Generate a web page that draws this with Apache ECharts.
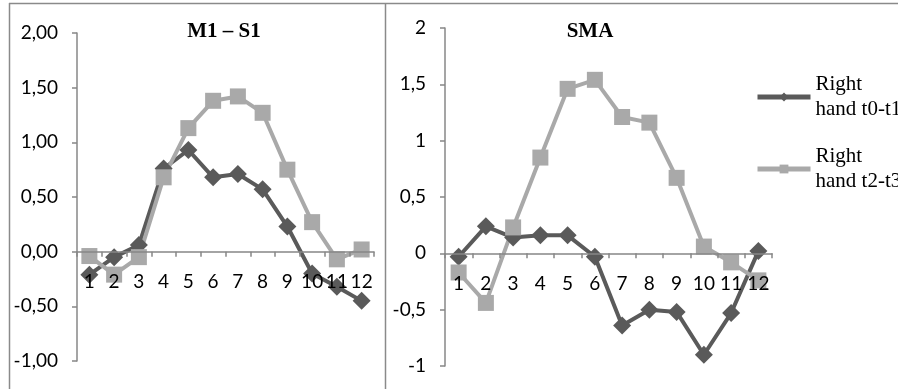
<!DOCTYPE html>
<html>
<head>
<meta charset="utf-8">
<script src="https://cdn.jsdelivr.net/npm/echarts@6/dist/echarts.min.js"></script>
<style>
  html, body { margin: 0; padding: 0; background: #fff; }
  #chart { width: 898px; height: 389px; }
</style>
</head>
<body>
<div id="chart"></div>
<script>
// Time points along the x axis
const categories = ['1', '2', '3', '4', '5', '6', '7', '8', '9', '10', '11', '12'];

// Series names
const seriesNames = ['Right hand t0-t1', 'Right hand t2-t3'];

// Panel titles
const panelTitles = ['M1 – S1', 'SMA'];

// M1 – S1 panel
const m1s1_t0t1 = [-0.21, -0.05, 0.06, 0.76, 0.93, 0.68, 0.71, 0.57, 0.23, -0.20, -0.32, -0.45];
const m1s1_t2t3 = [-0.04, -0.21, -0.05, 0.68, 1.13, 1.38, 1.42, 1.27, 0.75, 0.27, -0.07, 0.02];

// SMA panel
const sma_t0t1 = [-0.03, 0.24, 0.14, 0.16, 0.16, -0.03, -0.64, -0.50, -0.52, -0.90, -0.53, 0.02];
const sma_t2t3 = [-0.17, -0.44, 0.23, 0.85, 1.46, 1.54, 1.21, 1.16, 0.67, 0.06, -0.08, -0.24];

// Y axis range and step
const yMin = -1, yMax = 2, yStep = 0.5;

const DARK = '#5a5a5a';
const LIGHT = '#a9a9a9';
const AXIS = '#878787';
const LABEL_FONT = 'Lato, "Open Sans", sans-serif';
const SERIF = '"Liberation Serif", "DejaVu Serif", serif';

// plot areas of the two panels
const grids = [
  { left: 77, top: 33, width: 297, height: 328 },
  { left: 445, top: 28, width: 327, height: 338 }
];

const chart = echarts.init(document.getElementById('chart'), null, { renderer: 'canvas' });

function xAxisFor(gridIndex) {
  // category axis drawn across the y = 0 line of its panel
  const g = grids[gridIndex];
  const zeroOffset = -g.height * (0 - yMin) / (yMax - yMin);
  return {
    type: 'category',
    gridIndex: gridIndex,
    data: categories,
    z: 10,
    position: 'bottom',
    offset: zeroOffset,
    axisLine: { onZero: false, lineStyle: { color: AXIS, width: 1.5 } },
    axisTick: { show: true, length: 5, lineStyle: { color: AXIS, width: 1.5 } },
    axisLabel: { color: '#000', fontFamily: LABEL_FONT, fontSize: 19, margin: 21, interval: 0 },
    splitLine: { show: false }
  };
}

function yAxisFor(gridIndex, fmt) {
  return {
    type: 'value',
    gridIndex: gridIndex,
    min: yMin, max: yMax, interval: yStep,
    axisLine: { show: true, lineStyle: { color: AXIS, width: 1.5 } },
    axisTick: { show: true, length: 5, lineStyle: { color: AXIS, width: 1.5 } },
    axisLabel: { color: '#000', fontFamily: LABEL_FONT, fontSize: 19, margin: 19, formatter: fmt },
    splitLine: { show: false }
  };
}

function lineSeries(name, data, idx, color, symbol, size) {
  return {
    name: name,
    type: 'line',
    xAxisIndex: idx,
    yAxisIndex: idx,
    data: data,
    symbol: symbol,
    symbolSize: size,
    showAllSymbol: true,
    lineStyle: { color: color, width: 4 },
    itemStyle: { color: color },
    emphasis: { disabled: true },
    animation: false
  };
}

const option = {
  backgroundColor: '#fff',
  animation: false,
  title: [
    {
      text: panelTitles[0], left: 224, top: 21, textAlign: 'center', padding: 0,
      textStyle: { fontFamily: SERIF, fontWeight: 'bold', fontSize: 21, color: '#000' }
    },
    {
      text: panelTitles[1], left: 590, top: 21, textAlign: 'center', padding: 0,
      textStyle: { fontFamily: SERIF, fontWeight: 'bold', fontSize: 21, color: '#000' }
    }
  ],
  legend: {
    data: seriesNames.map(function (n) {
      return { name: n, lineStyle: { width: 5 } };
    }),
    orient: 'vertical',
    left: 755,
    top: 59.5,
    padding: 0,
    itemWidth: 53,
    itemHeight: 11,
    itemGap: -3,
    itemTextGap: 5,
    selectedMode: false,
    lineStyle: { width: 5 },
    formatter: function (name) { return name.replace(' ', '\n'); },
    textStyle: {
      fontFamily: SERIF, fontSize: 21, color: '#000', lineHeight: 25,
      padding: [25, 0, 0, 0]
    }
  },
  grid: grids.map(function (g) {
    return Object.assign({ containLabel: false, outerBoundsMode: 'none' }, g);
  }),
  xAxis: [xAxisFor(0), xAxisFor(1)],
  yAxis: [
    yAxisFor(0, function (v) { return v.toFixed(2).replace('.', ','); }),
    yAxisFor(1, function (v) { return String(v).replace('.', ','); })
  ],
  series: [
    lineSeries(seriesNames[0], m1s1_t0t1, 0, DARK, 'diamond', 18),
    lineSeries(seriesNames[1], m1s1_t2t3, 0, LIGHT, 'rect', 16),
    lineSeries(seriesNames[0], sma_t0t1, 1, DARK, 'diamond', 18),
    lineSeries(seriesNames[1], sma_t2t3, 1, LIGHT, 'rect', 16)
  ],
  graphic: [
    // outer frame: top edge, left edge and the divider between panels
    { type: 'line', shape: { x1: 9, y1: 3.5, x2: 898, y2: 3.5 }, style: { stroke: '#8a8a8a', lineWidth: 1.5 }, silent: true },
    { type: 'line', shape: { x1: 9.5, y1: 3, x2: 9.5, y2: 389 }, style: { stroke: '#8a8a8a', lineWidth: 1.5 }, silent: true },
    { type: 'line', shape: { x1: 385.5, y1: 3, x2: 385.5, y2: 389 }, style: { stroke: '#8a8a8a', lineWidth: 1.5 }, silent: true }
  ]
};

chart.setOption(option);
</script>
</body>
</html>
